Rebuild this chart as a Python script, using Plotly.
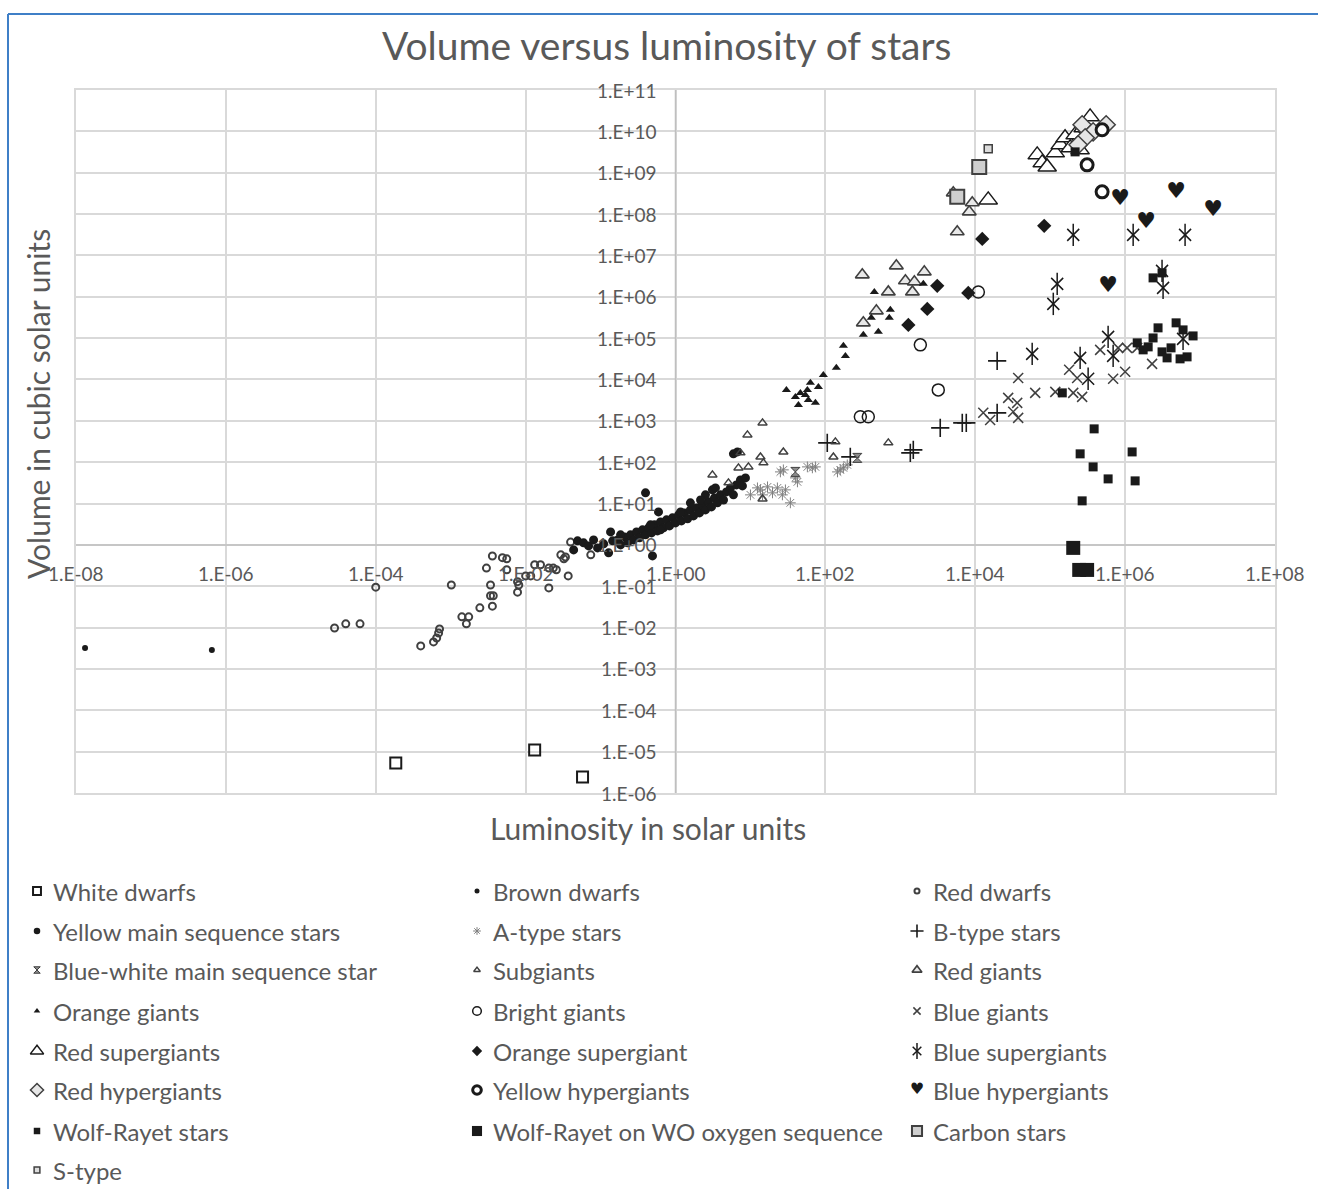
import math
import plotly.graph_objects as go

# ---------------- data: luminosity (solar units) / volume (cubic solar units) ----------------
white_dwarfs_lum = [1.85e-4, 1.32e-2, 5.75e-2]
white_dwarfs_vol = [5.35e-6, 1.1e-5, 2.45e-6]

brown_dwarfs_lum = [1.32e-8, 6.5e-7]
brown_dwarfs_vol = [3.23e-3, 2.89e-3]

red_dwarfs_lum = [2.82e-5, 3.98e-5, 6.17e-5, 1.0e-4, 1.02e-3, 3.98e-4, 5.9e-4, 6.5e-4, 6.9e-4, 7.1e-4,
                  1.41e-3, 1.74e-3, 1.62e-3, 2.45e-3, 3.4e-3, 3.7e-3, 3.6e-3, 3.0e-3, 3.4e-3, 3.6e-3,
                  4.9e-3, 5.6e-3, 5.6e-3, 7.8e-3, 7.8e-3, 8.1e-3, 1.0e-2, 1.17e-2, 1.32e-2, 1.58e-2,
                  2.04e-2, 2.34e-2, 2.57e-2, 2.04e-2, 3.7e-2, 2.95e-2, 3.24e-2, 3.4e-2, 3.98e-2, 7.4e-2]
red_dwarfs_vol = [9.8e-3, 1.23e-2, 1.23e-2, 9.5e-2, 1.07e-1, 3.6e-3, 4.5e-3, 5.6e-3, 7.4e-3, 9.3e-3,
                  1.82e-2, 1.82e-2, 1.23e-2, 3.0e-2, 5.9e-2, 5.9e-2, 3.3e-2, 2.75e-1, 1.07e-1, 5.4e-1,
                  4.9e-1, 4.6e-1, 2.5e-1, 1.29e-1, 7.2e-2, 1.07e-1, 1.78e-1, 1.78e-1, 3.3e-1, 3.3e-1,
                  2.75e-1, 2.75e-1, 2.5e-1, 9.1e-2, 1.78e-1, 5.75e-1, 4.6e-1, 5.1e-1, 1.17, 5.75e-1]

yellow_ms_lum = [4.37e-2, 4.93e-2, 5.93e-2, 6.92e-2, 8.07e-2, 9.12e-2, 0.11, 0.128, 0.136, 0.145,
                 0.169, 0.185, 0.209, 0.229, 0.251, 0.275, 0.302, 0.331, 0.363, 0.398,
                 0.398, 0.437, 0.479, 0.493, 0.525, 0.575, 0.593, 0.631, 0.692, 0.759,
                 0.832, 0.912, 1.0, 1.1, 1.2, 1.32, 1.45, 1.58, 1.74, 1.91,
                 2.09, 2.29, 2.51, 2.75, 3.02, 3.31, 3.63, 3.98, 4.37, 4.79,
                 5.41, 5.93, 6.5, 7.36, 7.82, 8.58, 5.93, 6.71, 2.51, 3.11,
                 0.185, 0.464, 1.17, 2.16, 1.58, 3.41, 0.631]
yellow_ms_vol = [0.757, 1.25, 1.12, 0.946, 1.32, 0.846, 1.06, 0.641, 2.06, 1.25,
                 1.32, 1.0, 1.56, 1.12, 1.75, 1.32, 2.06, 1.48, 2.31, 1.75,
                 18.1, 2.58, 1.95, 0.542, 3.05, 2.18, 6.28, 3.6, 2.58, 4.03,
                 2.88, 4.5, 3.4, 5.32, 3.8, 5.94, 4.26, 7.02, 5.02, 7.85,
                 5.94, 9.27, 7.02, 11.0, 8.3, 13.7, 10.4, 16.2, 12.2, 19.1,
                 23.9, 16.2, 28.2, 37.3, 26.7, 41.7, 159, 177, 16.2, 21.4,
                 1.75, 3.05, 6.28, 12.2, 10.4, 23.9, 2.31]

a_type_lum = [10, 12.4, 14.5, 16.9, 19.7, 22.9, 26.7, 29.3, 34.1, 25.1, 27.5,
              42.4, 57.5, 67.1, 73.6, 145, 158, 174, 196, 13.6, 39.8]
a_type_vol = [16.2, 23.9, 16.2, 25.3, 18.1, 23.9, 16.2, 21.4, 10.4, 58.2, 65.2,
              33.4, 76.9, 72.8, 76.9, 58.2, 65.2, 72.8, 86.1, 21.4, 41.7]

b_type_lum = [106, 215, 1360, 1490, 3410, 6710, 7590, 1.96e4, 1.96e4]
b_type_vol = [293, 134, 168, 198, 675, 891, 891, 2.82e4, 1560]

blue_white_ms_lum = [39.8, 267]
blue_white_ms_vol = [58.2, 127]

subgiants_lum = [14.5, 9.12, 7.36, 13.6, 14.9, 6.92, 9.4, 3.11, 5.09, 27.5, 136, 128, 692, 14.5]
subgiants_vol = [891, 457, 168, 134, 96.2, 72.8, 76.9, 49.3, 31.6, 177, 310, 134, 293, 12.9]

red_giants_lum = [311, 885, 2090, 1170, 1540, 1450, 692, 479, 321, 5750, 8320, 9120, 5090]
red_giants_vol = [3.39e6, 5.59e6, 4.0e6, 2.43e6, 2.29e6, 1.31e6, 1.31e6, 4.56e5, 2.34e5,
                  3.72e7, 1.13e8, 1.87e8, 3.26e8]

orange_giants_lum = [174, 185, 140, 94, 63.1, 80.7, 30.2, 39.8, 46.4, 54.1, 57.5,
                     43.7, 73.6, 59.3, 450, 736, 713, 410, 509, 321, 2030]
orange_giants_vol = [6.5e4, 3.72e4, 1.91e4, 1.29e4, 8280, 6620, 5600, 3790, 4740, 4240, 5600,
                     2430, 2720, 3210, 1.31e6, 4.82e5, 3.09e5, 3.09e5, 1.42e5, 1.2e5, 2.05e6]

bright_giants_lum = [293, 374, 3210, 1850, 1.1e4]
bright_giants_vol = [1250, 1250, 5600, 6.87e4, 1.31e6]

blue_giants_lum = [1.28e4, 1.58e4, 2.75e4, 3.21e4, 3.63e4, 3.74e4, 3.74e4, 6.31e4, 1.17e5, 1.79e5,
                   2.03e5, 2.29e5, 2.67e5, 6.92e5, 1.0e6, 8.07e5, 1.06e6, 1.45e6, 2.29e6, 4.64e5]
blue_giants_vol = [1560, 1050, 3590, 1650, 2720, 1180, 1.09e4, 4740, 5010, 1.71e4,
                   4740, 1.09e4, 3790, 1.04e4, 1.53e4, 5.81e4, 5.81e4, 5.81e4, 2.38e4, 5.2e4]

red_supergiants_lum = [6.71e4, 7.82e4, 9.12e4, 1.17e5, 1.36e5, 1.58e5, 1.85e5, 3.41e5,
                       1.49e4, 2.51e5, 2.15e5, 2.75e5]
red_supergiants_vol = [2.7e9, 1.73e9, 1.38e9, 3.02e9, 4.72e9, 6.97e9, 3.99e9, 2.24e10,
                       2.2e8, 3.57e9, 8.22e9, 1.22e10]

orange_supergiant_lum = [1280, 2290, 3110, 8070, 1.24e4, 8.32e4]
orange_supergiant_vol = [2.09e5, 5.09e5, 1.84e6, 1.24e6, 2.51e7, 5.19e7]

blue_supergiants_lum = [2.03e5, 1.28e6, 6.31e6, 1.24e5, 1.1e5, 5.75e4, 2.51e5, 3.21e5,
                        5.93e5, 6.92e5, 3.11e6, 3.21e6, 5.93e6]
blue_supergiants_vol = [3.14e7, 3.14e7, 3.14e7, 2.05e6, 6.73e5, 4.16e4, 3.33e4, 1.04e4,
                        1.07e5, 3.72e4, 4.23e6, 1.64e6, 9.6e4]

red_hypergiants_lum = [2.67e5, 3.74e5, 5.58e5, 2.93e5, 2.36e5]
red_hypergiants_vol = [1.44e10, 9.7e9, 1.44e10, 6.97e9, 4.72e9]

yellow_hypergiants_lum = [4.93e5, 3.11e5, 4.93e5]
yellow_hypergiants_vol = [1.09e10, 1.55e9, 3.44e8]

blue_hypergiants_lum = [8.57e5, 1.91e6, 4.79e6, 1.49e7, 5.93e5]
blue_hypergiants_vol = [2.2e8, 6.12e7, 3.26e8, 1.19e8, 1.73e6]

wolf_rayet_lum = [1.45e5, 3.86e5, 2.51e5, 3.74e5, 5.93e5, 1.24e6, 1.36e6, 2.67e5, 1.45e6, 1.74e6,
                  2.03e6, 2.36e6, 2.75e6, 3.11e6, 3.63e6, 4.1e6, 4.79e6, 5.93e6, 8.07e6, 5.41e6,
                  6.71e6, 2.36e6, 3.11e6, 2.15e5]
wolf_rayet_vol = [4740, 639, 159, 76.9, 39.4, 177, 35.3, 11.6, 7.68e4, 5.2e4,
                  6.14e4, 1.01e5, 1.77e5, 4.65e4, 3.33e4, 5.81e4, 2.34e5, 1.58e5, 1.13e5, 3.15e4,
                  3.52e4, 2.86e6, 3.78e6, 3.19e9]

wo_sequence_lum = [2.03e5, 2.44e5, 3.11e5]
wo_sequence_vol = [0.846, 0.248, 0.248]

carbon_stars_lum = [1.13e4, 5750]
carbon_stars_vol = [1.38e9, 2.61e8]

s_type_lum = [1.49e4]
s_type_vol = [3.77e9]

x_ticks = [1e-8, 1e-6, 1e-4, 1e-2, 1e0, 1e2, 1e4, 1e6, 1e8]
x_tick_text = ["1.E-08", "1.E-06", "1.E-04", "1.E-02", "1.E+00", "1.E+02", "1.E+04", "1.E+06", "1.E+08"]
y_ticks = [1e-6, 1e-5, 1e-4, 1e-3, 1e-2, 1e-1, 1e0, 1e1, 1e2, 1e3, 1e4, 1e5, 1e6, 1e7, 1e8, 1e9, 1e10, 1e11]
y_tick_text = ["1.E-06", "1.E-05", "1.E-04", "1.E-03", "1.E-02", "1.E-01", "1.E+00", "1.E+01", "1.E+02",
               "1.E+03", "1.E+04", "1.E+05", "1.E+06", "1.E+07", "1.E+08", "1.E+09", "1.E+10", "1.E+11"]

# ---------------- marker styles ----------------
BLACK = "#1a1a1a"
DARK = "#404040"


def mk(symbol, size, color=BLACK, lw=1.5, lc=None):
    return dict(symbol=symbol, size=size, color=color,
                line=dict(width=lw, color=lc if lc else color))


series = [
    ("White dwarfs", white_dwarfs_lum, white_dwarfs_vol, [mk("square-open", 11, BLACK, 2)]),
    ("Brown dwarfs", brown_dwarfs_lum, brown_dwarfs_vol, [mk("circle", 6, BLACK, 0)]),
    ("Red dwarfs", red_dwarfs_lum, red_dwarfs_vol, [mk("circle-open", 7, DARK, 2)]),
    ("Yellow main sequence stars", yellow_ms_lum, yellow_ms_vol, [mk("circle", 9, BLACK, 0)]),
    ("A-type stars", a_type_lum, a_type_vol, [mk("asterisk-open", 9, "#808080", 1)]),
    ("B-type stars", b_type_lum, b_type_vol, [mk("cross-thin-open", 13, BLACK, 1.6)]),
    ("Blue-white main sequence star", blue_white_ms_lum, blue_white_ms_vol,
     [mk("hourglass", 9, "#8c8c8c", 1, DARK)]),
    ("Subgiants", subgiants_lum, subgiants_vol, [mk("triangle-up-open", 8, DARK, 1.5)]),
    ("Red giants", red_giants_lum, red_giants_vol, [mk("triangle-up", 12, "#e8e8e8", 1.6, DARK)]),
    ("Orange giants", orange_giants_lum, orange_giants_vol, [mk("triangle-up", 8, BLACK, 0)]),
    ("Bright giants", bright_giants_lum, bright_giants_vol, [mk("circle-open", 12, BLACK, 1.5)]),
    ("Blue giants", blue_giants_lum, blue_giants_vol, [mk("x-thin-open", 10, DARK, 1.5)]),
    ("Red supergiants", red_supergiants_lum, red_supergiants_vol,
     [mk("triangle-up", 16, "white", 1.5, BLACK)]),
    ("Orange supergiant", orange_supergiant_lum, orange_supergiant_vol, [mk("diamond", 11, BLACK, 0)]),
    ("Blue supergiants", blue_supergiants_lum, blue_supergiants_vol,
     [mk("x-thin-open", 12, BLACK, 1.5), mk("line-ns-open", 16, BLACK, 1.5)]),
    ("Red hypergiants", red_hypergiants_lum, red_hypergiants_vol,
     [mk("diamond", 14, "#e6e6e6", 1.5, DARK)]),
    ("Yellow hypergiants", yellow_hypergiants_lum, yellow_hypergiants_vol,
     [mk("circle", 12, "white", 3, BLACK)]),
    ("Blue hypergiants", blue_hypergiants_lum, blue_hypergiants_vol,
     [dict(glyph="\u2665", size=22, color=BLACK)]),
    ("Wolf-Rayet stars", wolf_rayet_lum, wolf_rayet_vol, [mk("square", 9, BLACK, 0)]),
    ("Wolf-Rayet on WO oxygen sequence", wo_sequence_lum, wo_sequence_vol, [mk("square", 14, BLACK, 0)]),
    ("Carbon stars", carbon_stars_lum, carbon_stars_vol, [mk("square", 14, "#cfcfcf", 2, DARK)]),
    ("S-type", s_type_lum, s_type_vol, [mk("square", 8, "#dcdcdc", 1.5, DARK)]),
]

W, H = 1318, 1189
TEXT = "#595959"
FONT = "Lato, 'Open Sans', sans-serif"
GRID = "#d9d9d9"

fig = go.Figure()


def add_layer(xs, ys, layer, name, xa="x", ya="y", scale=1.0):
    if "glyph" in layer:
        fig.add_trace(go.Scatter(
            x=xs, y=ys, mode="text", text=[layer["glyph"]] * len(xs),
            textposition="middle center", name=name, showlegend=False, hoverinfo="skip",
            textfont=dict(size=layer["size"] * scale, color=layer["color"], family="DejaVu Sans"),
            xaxis=xa, yaxis=ya, cliponaxis=False))
    else:
        m = dict(layer)
        m["size"] = max(5, layer["size"] * scale)
        fig.add_trace(go.Scatter(
            x=xs, y=ys, mode="markers", marker=m, name=name, showlegend=False,
            xaxis=xa, yaxis=ya, cliponaxis=False))


# axis lines crossing at 1 (Excel style)
fig.add_trace(go.Scatter(x=[1, 1], y=[1e-6, 1e11], mode="lines", line=dict(color="#bfbfbf", width=1.5),
                         showlegend=False, hoverinfo="skip"))
fig.add_trace(go.Scatter(x=[1e-8, 1e8], y=[1, 1], mode="lines", line=dict(color="#bfbfbf", width=1.5),
                         showlegend=False, hoverinfo="skip"))

for name, xs, ys, layers in series:
    for layer in layers:
        add_layer(xs, ys, layer, name)

# ---------------- legend drawn in a pixel-space overlay ----------------
col_marker_x = [37, 477, 917]
row_y = [891, 931, 970, 1011, 1051, 1090, 1131, 1170]
annotations = []
for i, (name, xs, ys, layers) in enumerate(series):
    cx = col_marker_x[i % 3]
    cy = row_y[i // 3]
    for layer in layers:
        add_layer([cx], [cy], layer, name, xa="x2", ya="y2", scale=0.72)
    annotations.append(dict(x=cx + 14, y=cy, xref="x2", yref="y2", text=name, showarrow=False,
                            xanchor="left", yanchor="middle",
                            font=dict(size=24, color=TEXT, family=FONT)))

# tick labels placed next to the axes that cross at 1
for v, t in zip(x_ticks, x_tick_text):
    annotations.append(dict(x=math.log10(v), y=0, xref="x", yref="y", text=t, showarrow=False,
                            xanchor="center", yanchor="middle", yshift=-29,
                            font=dict(size=19, color=TEXT, family=FONT)))
for v, t in zip(y_ticks, y_tick_text):
    annotations.append(dict(x=0, y=math.log10(v), xref="x", yref="y", text=t, showarrow=False,
                            xanchor="right", yanchor="middle", xshift=-17,
                            font=dict(size=19, color=TEXT, family=FONT)))

# titles
annotations.append(dict(x=666, y=45, xref="x2", yref="y2", text="Volume versus luminosity of stars",
                        showarrow=False, xanchor="center", yanchor="middle",
                        font=dict(size=39, color=TEXT, family=FONT)))
annotations.append(dict(x=648, y=828, xref="x2", yref="y2", text="Luminosity in solar units",
                        showarrow=False, xanchor="center", yanchor="middle",
                        font=dict(size=30, color=TEXT, family=FONT)))
annotations.append(dict(x=38, y=404, xref="x2", yref="y2", text="Volume in cubic solar units",
                        showarrow=False, xanchor="center", yanchor="middle", textangle=-90,
                        font=dict(size=30, color=TEXT, family=FONT)))

# chart frame (top and left edges)
shapes = [
    dict(type="line", xref="x2", yref="y2", x0=8, y0=14, x1=W, y1=14, line=dict(color="#3f7fc7", width=2)),
    dict(type="line", xref="x2", yref="y2", x0=8, y0=14, x1=8, y1=H, line=dict(color="#3f7fc7", width=2)),
]

fig.update_layout(
    width=W, height=H,
    margin=dict(l=0, r=0, t=0, b=0, pad=0),
    paper_bgcolor="white",
    plot_bgcolor="rgba(0,0,0,0)",
    showlegend=False,
    xaxis=dict(type="log", range=[-8, 8], domain=[76 / W, 1275 / W], anchor="y",
               tickvals=x_ticks, showticklabels=False, ticks="",
               showgrid=True, gridcolor=GRID, gridwidth=1.5,
               showline=True, mirror=True, linecolor=GRID, linewidth=1.5, zeroline=False),
    yaxis=dict(type="log", range=[-6, 11], domain=[1 - 793 / H, 1 - 90 / H], anchor="x",
               tickvals=y_ticks, showticklabels=False, ticks="",
               showgrid=True, gridcolor=GRID, gridwidth=1.5,
               showline=True, mirror=True, linecolor=GRID, linewidth=1.5, zeroline=False),
    xaxis2=dict(range=[0, W], domain=[0, 1], anchor="y2", visible=False, fixedrange=True),
    yaxis2=dict(range=[H, 0], domain=[0, 1], anchor="x2", visible=False, fixedrange=True),
    annotations=annotations,
    shapes=shapes,
)

fig.write_html("out.html")
